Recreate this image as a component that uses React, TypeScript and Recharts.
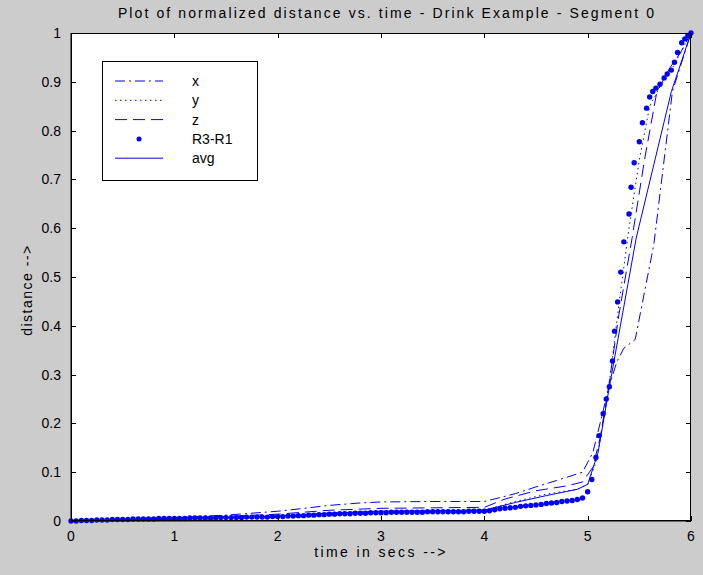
import React from 'react';
import { ComposedChart, Line, Scatter, XAxis, YAxis, Legend } from 'recharts';

const TITLE = 'Plot of normalized distance vs. time - Drink Example - Segment 0';
const X_LABEL = 'time in secs -->';
const Y_LABEL = 'distance -->';

const X_TICKS = [0, 1, 2, 3, 4, 5, 6];
const Y_TICKS = [0, 0.1, 0.2, 0.3, 0.4, 0.5, 0.6, 0.7, 0.8, 0.9, 1];
const Y_TICK_LABELS = ['0', '0.1', '0.2', '0.3', '0.4', '0.5', '0.6', '0.7', '0.8', '0.9', '1'];
const X_DOMAIN: [number, number] = [0, 6];
const Y_DOMAIN: [number, number] = [0, 1];

// x (dash-dot)
const X_T = [0, 0.5, 1, 1.5, 2, 2.3, 2.5, 2.8, 3, 3.5, 4, 4.17, 4.3, 4.5, 4.7, 4.95, 5.05, 5.12, 5.2, 5.28, 5.35, 5.46, 5.64, 5.82, 6];
const X_V = [0, 0.003, 0.007, 0.012, 0.02, 0.027, 0.032, 0.037, 0.039, 0.04, 0.04, 0.049, 0.056, 0.07, 0.083, 0.1, 0.14, 0.2, 0.27, 0.325, 0.354, 0.372, 0.566, 0.88, 1];

// y (dotted)
const Y_T = [0, 1, 2, 2.5, 3, 3.5, 4, 4.3, 4.6, 4.9, 5.0, 5.08, 5.15, 5.22, 5.3, 5.4, 5.5, 5.6, 5.7, 5.8, 5.9, 6];
const Y_V = [0, 0.004, 0.01, 0.016, 0.02, 0.021, 0.022, 0.04, 0.055, 0.065, 0.075, 0.12, 0.2, 0.3, 0.44, 0.6, 0.74, 0.85, 0.89, 0.92, 0.96, 1];

// z (dashed)
const Z_T = [0, 1, 2, 2.5, 3, 3.5, 4, 4.2, 4.5, 4.8, 4.95, 5.05, 5.12, 5.2, 5.3, 5.43, 5.55, 5.67, 5.8, 5.9, 6];
const Z_V = [0, 0.005, 0.014, 0.022, 0.026, 0.027, 0.028, 0.045, 0.062, 0.072, 0.08, 0.11, 0.17, 0.27, 0.42, 0.58, 0.74, 0.88, 0.93, 0.96, 1];

// avg (solid)
const AVG_T = [0, 1, 2, 2.5, 3, 3.5, 4, 4.3, 4.6, 4.9, 5.0, 5.1, 5.21, 5.47, 5.81, 6];
const AVG_V = [0, 0.004, 0.01, 0.016, 0.02, 0.021, 0.022, 0.038, 0.052, 0.065, 0.075, 0.14, 0.275, 0.58, 0.88, 1];

// R3-R1 (dots): flat part sampled every 0.05 s from 0 to 4.95
const R3R1_FLAT_STEP = 0.05;
const R3R1_FLAT = [
  0.000, 0.000, 0.001, 0.001, 0.001, 0.002, 0.002, 0.002, 0.003, 0.003,
  0.003, 0.003, 0.004, 0.004, 0.004, 0.004, 0.004, 0.005, 0.005, 0.005,
  0.005, 0.005, 0.005, 0.006, 0.006, 0.006, 0.006, 0.006, 0.006, 0.007,
  0.007, 0.007, 0.007, 0.007, 0.008, 0.008, 0.008, 0.008, 0.008, 0.009,
  0.009, 0.009, 0.010, 0.010, 0.011, 0.011, 0.012, 0.012, 0.013, 0.013,
  0.014, 0.014, 0.015, 0.015, 0.015, 0.016, 0.016, 0.016, 0.017, 0.017,
  0.017, 0.017, 0.018, 0.018, 0.018, 0.018, 0.018, 0.018, 0.018, 0.019,
  0.019, 0.019, 0.019, 0.019, 0.019, 0.019, 0.019, 0.020, 0.020, 0.020,
  0.020, 0.021, 0.023, 0.025, 0.026, 0.027, 0.028, 0.030, 0.031, 0.032,
  0.033, 0.034, 0.036, 0.037, 0.038, 0.040, 0.041, 0.042, 0.044, 0.047,
];
const R3R1_RISE_T = [5.0, 5.04, 5.08, 5.11, 5.15, 5.18, 5.21, 5.24, 5.26, 5.29, 5.32, 5.35, 5.4, 5.42, 5.45, 5.5, 5.53, 5.57, 5.6, 5.63, 5.66, 5.7, 5.74, 5.77, 5.81, 5.84, 5.87, 5.91, 5.94, 5.97, 6.0];
const R3R1_RISE_V = [0.06, 0.085, 0.13, 0.175, 0.22, 0.25, 0.275, 0.328, 0.389, 0.449, 0.51, 0.572, 0.629, 0.684, 0.734, 0.777, 0.816, 0.846, 0.869, 0.88, 0.887, 0.895, 0.908, 0.916, 0.924, 0.94, 0.96, 0.98, 0.988, 0.995, 1.0];

const SERIES_NAMES = ['x', 'y', 'z', 'R3-R1', 'avg'];

const BLUE = '#0000ff';
const FONT = '"Liberation Sans", Arial, Helvetica, sans-serif';

// layout
const W = 703;
const H = 575;
const MARGIN = { top: 33, right: 12, bottom: 14, left: 0 };
const Y_AXIS_W = 71;
const X_AXIS_H = 40;
const PLOT_L = MARGIN.left + Y_AXIS_W;
const PLOT_T = MARGIN.top;
const PLOT_R = W - MARGIN.right;
const PLOT_B = H - MARGIN.bottom - X_AXIS_H;
const TICK_LEN = 5;

// pixel position of a frame tick (same linear mapping as the chart's axes)
const tickX = (t: number) => PLOT_L + ((t - X_DOMAIN[0]) / (X_DOMAIN[1] - X_DOMAIN[0])) * (PLOT_R - PLOT_L);
const tickY = (v: number) => PLOT_B - ((v - Y_DOMAIN[0]) / (Y_DOMAIN[1] - Y_DOMAIN[0])) * (PLOT_B - PLOT_T);

const toPts = (ts: number[], vs: number[]) => ts.map((t, i) => ({ t, v: vs[i] }));
const xData = toPts(X_T, X_V);
const yData = toPts(Y_T, Y_V);
const zData = toPts(Z_T, Z_V);
const avgData = toPts(AVG_T, AVG_V);
const r3r1Data = [
  ...R3R1_FLAT.map((v, i) => ({ t: +(i * R3R1_FLAT_STEP).toFixed(2), v })),
  ...toPts(R3R1_RISE_T, R3R1_RISE_V),
];

const DASH: Record<string, string | undefined> = {
  x: '10 4 2 4',
  y: '1.5 3.5',
  z: '12 6',
  avg: undefined,
};

function LegendBox() {
  return (
    <svg width={157} height={121} style={{ display: 'block' }}>
      <rect x={0.5} y={0.5} width={155} height={119} fill="#fff" stroke="#000" strokeWidth={1} />
      {SERIES_NAMES.map((name, i) => {
        const cy = 20 + i * 19.3;
        return (
          <g key={name}>
            {name === 'R3-R1' ? (
              <circle cx={37} cy={cy} r={2.5} fill={BLUE} />
            ) : (
              <line x1={13} x2={61} y1={cy} y2={cy} stroke={BLUE} strokeWidth={1} strokeDasharray={DASH[name]} />
            )}
            <text x={90} y={cy + 5} fontFamily={FONT} fontSize={14} fill="#000">{name}</text>
          </g>
        );
      })}
    </svg>
  );
}

const Dot = (p: any) => <circle cx={p.cx} cy={p.cy} r={2.7} fill={BLUE} />;

const XTick = (p: any) => (
  <text x={p.x} y={p.y} dy="0.71em" textAnchor="middle" fill="#000" fontSize={14} fontFamily={FONT}>{p.payload.value}</text>
);

const YTick = (p: any) => {
  const label = Y_TICK_LABELS[Y_TICKS.indexOf(p.payload.value)] ?? String(p.payload.value);
  return (
    <text x={p.x} y={p.y} dy="0.355em" textAnchor="end" fill="#000" fontSize={14} fontFamily={FONT}>{label}</text>
  );
};

function Frame() {
  return (
    <svg width={W} height={H} style={{ position: 'absolute', left: 0, top: 0, pointerEvents: 'none' }}>
      <rect x={PLOT_L + 0.5} y={PLOT_T + 0.5} width={PLOT_R - PLOT_L - 1} height={PLOT_B - PLOT_T - 1} fill="none" stroke="#000" strokeWidth={1} />
      {X_TICKS.map((t) => {
        const x = Math.round(tickX(t)) + 0.5;
        return (
          <g key={`x${t}`}>
            <line x1={x} x2={x} y1={PLOT_B} y2={PLOT_B - TICK_LEN} stroke="#000" strokeWidth={1} />
            <line x1={x} x2={x} y1={PLOT_T} y2={PLOT_T + TICK_LEN} stroke="#000" strokeWidth={1} />
          </g>
        );
      })}
      {Y_TICKS.map((v) => {
        const y = Math.round(tickY(v)) + 0.5;
        return (
          <g key={`y${v}`}>
            <line x1={PLOT_L} x2={PLOT_L + TICK_LEN} y1={y} y2={y} stroke="#000" strokeWidth={1} />
            <line x1={PLOT_R} x2={PLOT_R - TICK_LEN} y1={y} y2={y} stroke="#000" strokeWidth={1} />
          </g>
        );
      })}
    </svg>
  );
}

export default function App() {
  return (
    <div style={{ position: 'absolute', left: 0, top: 0, width: W, height: H, background: '#cccccc', overflow: 'hidden' }}>
      <div style={{ position: 'absolute', left: PLOT_L, top: PLOT_T, width: PLOT_R - PLOT_L, height: PLOT_B - PLOT_T, background: '#ffffff' }} />
      <ComposedChart width={W} height={H} margin={MARGIN}>
        <XAxis
          dataKey="t"
          type="number"
          domain={X_DOMAIN}
          ticks={X_TICKS}
          height={X_AXIS_H}
          axisLine={{ stroke: '#000' }}
          tickLine={false}
          tickSize={0}
          tickMargin={10}
          tick={XTick}
        />
        <YAxis
          dataKey="v"
          type="number"
          domain={Y_DOMAIN}
          ticks={Y_TICKS}
          width={Y_AXIS_W}
          axisLine={{ stroke: '#000' }}
          tickLine={false}
          tickSize={0}
          tickMargin={10}
          tick={YTick}
        />
        <Legend
          layout="vertical"
          align="center"
          verticalAlign="middle"
          content={() => <LegendBox />}
          wrapperStyle={{ left: 102, top: 61, width: 157, height: 121 }}
        />
        <Line name="x" data={xData} dataKey="v" stroke={BLUE} strokeWidth={1} strokeDasharray={DASH.x} dot={false} isAnimationActive={false} />
        <Line name="y" data={yData} dataKey="v" stroke={BLUE} strokeWidth={1} strokeDasharray={DASH.y} dot={false} isAnimationActive={false} />
        <Line name="z" data={zData} dataKey="v" stroke={BLUE} strokeWidth={1} strokeDasharray={DASH.z} dot={false} isAnimationActive={false} />
        <Scatter name="R3-R1" data={r3r1Data} dataKey="v" fill={BLUE} shape={Dot} isAnimationActive={false} />
        <Line name="avg" data={avgData} dataKey="v" stroke={BLUE} strokeWidth={1} dot={false} isAnimationActive={false} />
      </ComposedChart>
      <Frame />
      <div style={{ position: 'absolute', left: 77, width: 620, top: 5, textAlign: 'center', fontFamily: FONT, fontSize: 14, letterSpacing: 2.1, color: '#000', whiteSpace: 'nowrap' }}>{TITLE}</div>
      <div style={{ position: 'absolute', left: 71, width: 620, top: 544, textAlign: 'center', fontFamily: FONT, fontSize: 14, letterSpacing: 2.4, color: '#000', whiteSpace: 'nowrap' }}>{X_LABEL}</div>
      <div style={{ position: 'absolute', left: 27, top: 290, width: 0, height: 0 }}>
        <div style={{ position: 'absolute', left: 0, top: 0, transform: 'translate(-50%, -50%) rotate(-90deg)', fontFamily: FONT, fontSize: 14, letterSpacing: 1.5, color: '#000', whiteSpace: 'nowrap' }}>{Y_LABEL}</div>
      </div>
    </div>
  );
}
